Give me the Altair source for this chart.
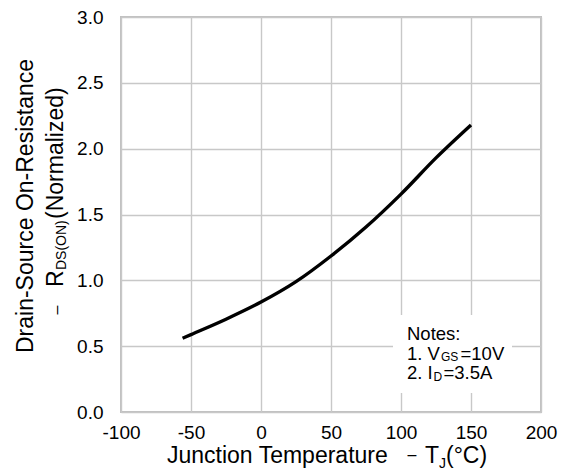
import altair as alt
import pandas as pd

# Data
temp_c = [-56, -50, -25, 0, 25, 50, 75, 100, 125, 150]
rds_norm = [0.56, 0.588, 0.705, 0.835, 0.99, 1.185, 1.405, 1.655, 1.93, 2.18]

x_ticks = [-100, -50, 0, 50, 100, 150, 200]
y_ticks = [0.0, 0.5, 1.0, 1.5, 2.0, 2.5, 3.0]

FONT = "Liberation Sans"
W, H = 420, 395

df = pd.DataFrame({"t": temp_c, "r": rds_norm})

base = alt.Chart(df)

line = base.mark_line(color="black", strokeWidth=3.4, interpolate="monotone").encode(
    x=alt.X("t:Q", scale=alt.Scale(domain=[-100, 200], nice=False),
            axis=alt.Axis(values=x_ticks, title=None, labelExpr="datum.value + ''",
                          labelFontSize=19, labelFont=FONT, labelColor="black",
                          labelPadding=11, ticks=False, domain=False, labelFlush=False,
                          gridColor="#c8c8c8", gridWidth=1.4)),
    y=alt.Y("r:Q", scale=alt.Scale(domain=[0, 3], nice=False),
            axis=alt.Axis(values=y_ticks, title=None, format=".1f",
                          labelFontSize=19, labelFont=FONT, labelColor="black",
                          labelPadding=18, ticks=False, domain=False, labelFlush=False,
                          gridColor="#c8c8c8", gridWidth=1.4)),
)

one = pd.DataFrame({"k": [0]})
ann = alt.Chart(one)

def txt(s, x, y, size, align="left", angle=0, baseline="alphabetic", color="black"):
    kw = dict(text=s, fontSize=size, font=FONT, align=align, baseline=baseline, color=color)
    if angle:
        kw["angle"] = angle
    return ann.mark_text(**kw).encode(x=alt.value(x), y=alt.value(y))

# offsets relative to plot origin (page y of plot top = 17)
dy = -2
box = ann.mark_rect(color="white").encode(
    x=alt.value(272), x2=alt.value(391), y=alt.value(300 + dy), y2=alt.value(378 + dy))

texts = [
    # x-axis title
    txt("Junction Temperature", 46, 448 + dy, 23),
    txt("–", 291, 445 + dy, 16, align="center"),
    txt("T", 304, 448 + dy, 23),
    txt("J", 318, 453 + dy, 14),
    txt("(°C)", 325, 448 + dy, 23),
    # y-axis title
    txt("Drain-Source On-Resistance", -88, 191 + dy, 23, align="center", angle=270),
    txt("–", -59.5, 295 + dy, 16, align="center", angle=270),
    txt("R", -58, 272 + dy, 23, angle=270),
    txt("DS(ON)", -55, 255 + dy, 14, angle=270),
    txt("(Normalized)", -58, 204 + dy, 23, angle=270),
    # notes
    txt("Notes:", 286, 325 + dy, 18.5),
    txt("1. V", 286, 345 + dy, 18.5),
    txt("GS", 320, 346 + dy, 12),
    txt("=10V", 339.5, 345 + dy, 18.5),
    txt("2. I", 286, 364 + dy, 18.5),
    txt("D", 312.5, 366 + dy, 12),
    txt("=3.5A", 322.5, 364 + dy, 18.5),
]

chart = alt.layer(line, box, *texts).properties(
    width=W, height=H,
    autosize=alt.AutoSizeParams(type="none"),
    padding={"left": 113, "top": 9, "right": 19, "bottom": 60},
).configure_view(stroke="#c0c0c0", strokeWidth=2).configure_axis(grid=True)

chart.save("out.html", embed_options={"renderer": "svg", "actions": False})
